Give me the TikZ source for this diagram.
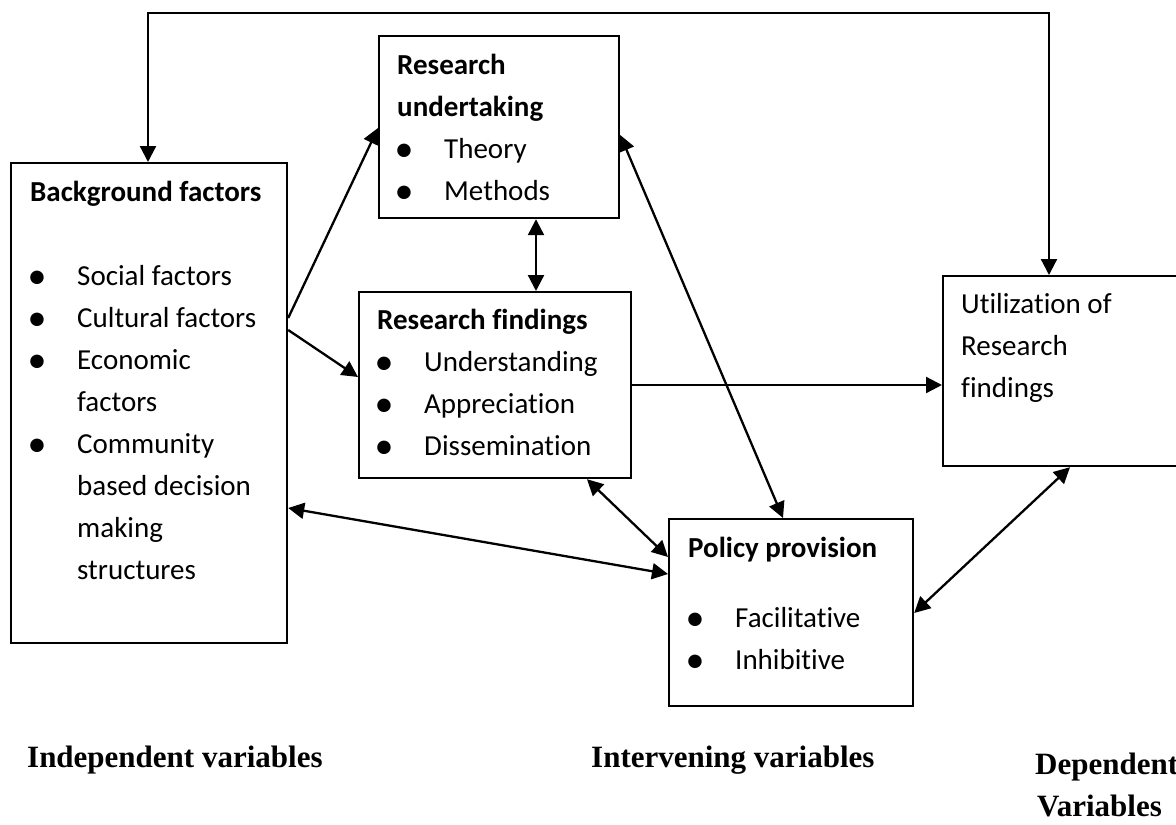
\documentclass[tikz,border=0pt]{standalone}
\usepackage{fontspec}
\setmainfont{Carlito}[Ligatures=NoCommon]
\newfontfamily\labelfont{Liberation Serif}
\usetikzlibrary{arrows.meta}

\tikzset{
  box/.style={draw, line width=2.2pt, inner sep=0pt, anchor=north west},
  boxtext/.style={anchor=north west, inner sep=0pt, align=left,
    font=\fontsize{29}{42}\selectfont},
  tipend/.tip={Triangle[length=16pt,width=16pt]},
  link/.style={line width=2.3pt, -tipend},
  dlink/.style={line width=2.3pt, tipend-tipend},
  varlabel/.style={anchor=base west, inner sep=0pt,
    font=\labelfont\bfseries\fontsize{31}{36}\selectfont},
}
% bullet item marker and hanging indent for continued lines
\newcommand\itembul{\makebox[47pt][l]{\hspace{7pt}\makebox[0pt]{%
  \raisebox{-3pt}{\fontsize{38}{42}\selectfont\textbullet}}}}
\newcommand\itemcont{\hspace*{47pt}}

\begin{document}
\begin{tikzpicture}[x=1pt,y=-1pt]
  \useasboundingbox (0,0) rectangle (1176,825);
  \clip (0,0) rectangle (1176,825);

  % boxes
  \node[box, minimum width=276pt, minimum height=480pt] (bg) at (10,162) {};
  \node[box, minimum width=240pt, minimum height=182pt] (ru) at (378,35) {};
  \node[box, minimum width=272pt, minimum height=186pt] (rf) at (358,291) {};
  \node[box, minimum width=244pt, minimum height=187pt] (pp) at (668,518) {};
  \node[box, minimum width=250pt, minimum height=190pt] (ut) at (942,275) {};

  % box contents
  \node[boxtext] (bgtext) at (30,171.6) {%
    \textbf{Background factors}\strut\\[42pt]
    \itembul Social factors\\
    \itembul Cultural factors\\
    \itembul Economic\\
    \itemcont factors\\
    \itembul Community\\
    \itemcont based decision\\
    \itemcont making\\
    \itemcont structures};
  \node[boxtext] (rutext) at (397,44.6) {%
    \textbf{Research}\strut\\
    \textbf{undertaking}\\
    \itembul Theory\\
    \itembul Methods};
  \node[boxtext] (rftext) at (377,299.6) {%
    \textbf{Research findings}\strut\\
    \itembul Understanding\\
    \itembul Appreciation\\
    \itembul Dissemination};
  \node[boxtext] (pptext) at (688,527.6) {%
    \textbf{Policy provision}\strut\\[28pt]
    \itembul Facilitative\\
    \itembul Inhibitive};
  \node[boxtext] (uttext) at (961,283.6) {%
    Utilization of\strut\\
    Research\\
    findings};

  % variable group labels
  \node[varlabel] (indep) at (27,767) {Independent variables};
  \node[varlabel] (interv) at (591,767) {Intervening variables};
  \node[varlabel] (dep) at (1035,774) {Dependent};
  \node[varlabel] (depvar) at (1037,816) {Variables};

  % feedback loop along the top
  \coordinate (toprail) at (600,12.7);
  \draw[dlink] ([xshift=138pt]bg.north west) |- (toprail) -| ([xshift=107pt]ut.north west);

  % connectors
  \draw[link] ([yshift=-156pt]bg.north east) -- ([yshift=-93pt]ru.north west);
  \draw[link] ([yshift=-168pt]bg.north east) -- ([yshift=-86pt]rf.north west);
  \draw[dlink] ([xshift=158pt]ru.south west) -- ([xshift=178pt]rf.north west);
  \draw[dlink] ([yshift=-100pt]ru.north east) -- ([xshift=115pt]pp.north west);
  \coordinate (rfout) at ([yshift=-94pt]rf.north east);
  \draw[link] (rfout) -- (rfout -| ut.west);
  \draw[dlink] ([xshift=229pt]rf.south west) -- ([yshift=-39pt]pp.north west);
  \draw[dlink] ([yshift=-346pt]bg.north east) -- ([yshift=-56pt]pp.north west);
  \draw[dlink] ([yshift=-95pt]pp.north east) -- ([xshift=128pt]ut.south west);
\end{tikzpicture}
\end{document}
